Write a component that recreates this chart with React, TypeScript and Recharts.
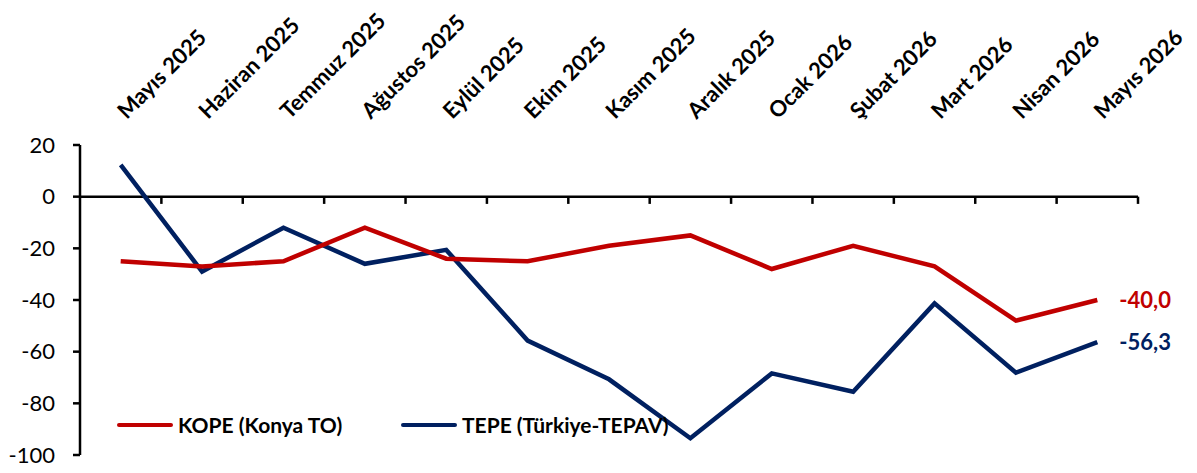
import { LineChart, Line, XAxis, YAxis, ReferenceLine, LabelList } from 'recharts';

const months = [
    'Mayıs 2025', 'Haziran 2025', 'Temmuz 2025', 'Ağustos 2025', 'Eylül 2025', 'Ekim 2025',
    'Kasım 2025', 'Aralık 2025', 'Ocak 2026', 'Şubat 2026', 'Mart 2026', 'Nisan 2026', 'Mayıs 2026',
];
const kope = [-25, -27, -25, -12, -24, -25, -19, -15, -28, -19, -27, -48, -40.0];
const tepe = [12.3, -29, -12, -26, -20.6, -55.7, -70.7, -93.5, -68.4, -75.5, -41.3, -68.1, -56.3];
const yTicks = [-100, -80, -60, -40, -20, 0, 20];

const RED = '#C00000';
const BLUE = '#002060';
const FONT = 'Lato, "Open Sans", sans-serif';

const data = months.map((m, i) => ({ idx: i, month: m, kope: kope[i], tepe: tepe[i] }));
const monthTicks = months.map((_, i) => i);
// tick marks on the zero line sit between categories
const boundaries = months.map((_, i) => i + 0.5);

const fmt = (v: number) => v.toFixed(1).replace('.', ',');

function MonthTick(props: any) {
    const { x, y, payload } = props;
    const ax = x + 6;
    return (
        <text
            x={ax}
            y={y}
            transform={`rotate(-45, ${ax}, ${y})`}
            textAnchor="start"
            fontFamily={FONT}
            fontWeight={700}
            fontSize={22}
            fill="#000"
        >
            {months[payload.value]}
        </text>
    );
}

function endLabel(color: string) {
    return (props: any) => {
        const { x, y, value, index } = props;
        if (index !== months.length - 1) return null;
        return (
            <text x={x + 22} y={y} dy={8} fill={color} fontFamily={FONT} fontWeight={700} fontSize={22}>
                {fmt(value)}
            </text>
        );
    };
}

function LegendBox() {
    const item = (color: string, label: string, w: number) => (
        <div style={{ display: 'flex', alignItems: 'center', width: w }}>
            <svg width={58} height={10}>
                <line x1={3} y1={5} x2={55} y2={5} stroke={color} strokeWidth={4} strokeLinecap="round" />
            </svg>
            <span style={{ fontFamily: FONT, fontWeight: 700, fontSize: 21, color: '#000', marginLeft: 4 }}>{label}</span>
        </div>
    );
    return (
        <div style={{ position: 'absolute', left: 116, top: 412, display: 'flex' }}>
            {item(RED, 'KOPE (Konya TO)', 284)}
            {item(BLUE, 'TEPE (Türkiye-TEPAV)', 320)}
        </div>
    );
}

export default function App() {
    return (
        <div style={{ position: 'absolute', left: 0, top: 0, width: 1197, height: 473, background: '#fff' }}>
            <LineChart width={1197} height={473} data={data} margin={{ top: 0, right: 59, left: 0, bottom: 18 }}>
                <XAxis
                    xAxisId="top"
                    orientation="top"
                    dataKey="idx"
                    type="number"
                    domain={[-0.5, 12.5]}
                    ticks={monthTicks}
                    interval={0}
                    height={145}
                    axisLine={false}
                    tickLine={false}
                    tickSize={0}
                    tickMargin={25}
                    tick={<MonthTick />}
                />
                <YAxis
                    domain={[-100, 20]}
                    ticks={yTicks}
                    width={80}
                    axisLine={{ stroke: '#000', strokeWidth: 2.5 }}
                    tickLine={{ stroke: '#000', strokeWidth: 2.5 }}
                    tickSize={7}
                    tickMargin={18}
                    tick={{ fill: '#000', fontSize: 22, fontFamily: FONT }}
                    interval={0}
                />
                <ReferenceLine xAxisId="top" y={0} stroke="#000" strokeWidth={2.5} />
                {boundaries.map((b) => (
                    <ReferenceLine
                        key={b}
                        xAxisId="top"
                        segment={[{ x: b, y: 0 }, { x: b, y: -2.8 }]}
                        stroke="#000"
                        strokeWidth={2.5}
                    />
                ))}
                <Line
                    xAxisId="top"
                    dataKey="tepe"
                    name="TEPE (Türkiye-TEPAV)"
                    stroke={BLUE}
                    strokeWidth={4.5}
                    dot={false}
                    type="linear"
                    isAnimationActive={false}
                >
                    <LabelList dataKey="tepe" content={endLabel(BLUE)} />
                </Line>
                <Line
                    xAxisId="top"
                    dataKey="kope"
                    name="KOPE (Konya TO)"
                    stroke={RED}
                    strokeWidth={4.5}
                    dot={false}
                    type="linear"
                    isAnimationActive={false}
                >
                    <LabelList dataKey="kope" content={endLabel(RED)} />
                </Line>
            </LineChart>
            <LegendBox />
        </div>
    );
}
